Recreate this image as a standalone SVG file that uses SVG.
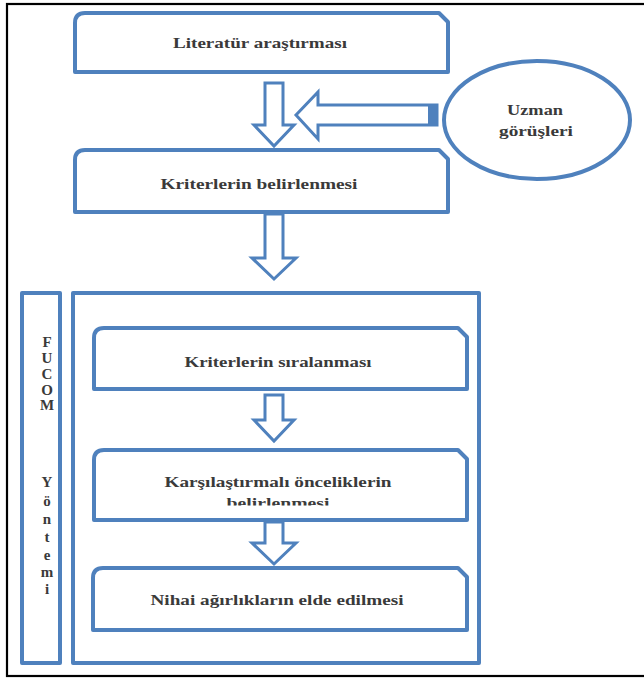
<svg xmlns="http://www.w3.org/2000/svg" width="644" height="678" viewBox="0 0 644 678">
<style>
.box{fill:#fff;stroke:#4f81bd;stroke-width:4;stroke-linejoin:round}
.arr{fill:#fff;stroke:#4f81bd;stroke-width:3;stroke-linejoin:miter}
.t{font-family:"Liberation Serif","DejaVu Serif",serif;font-weight:bold;font-size:15px;fill:#3a3a3a;text-anchor:middle}
.v{font-family:"Liberation Serif","DejaVu Serif",serif;font-weight:bold;font-size:15px;fill:#3a3a3a;text-anchor:middle}
</style>
<defs>
<clipPath id="clip2"><rect x="94" y="450" width="373" height="55.5"/></clipPath>
</defs>
<rect x="0" y="0" width="644" height="678" fill="#fff"/>
<rect x="7" y="4" width="642" height="672" fill="none" stroke="#000" stroke-width="2.2"/>

<g id="literatur">
<path class="box" d="M75,72 L75,23 Q75,13 85,13 L439,13 L448,22 L448,72 Z"/>
<text class="t" x="260" y="48" textLength="174" lengthAdjust="spacingAndGlyphs">Literatür araştırması</text>
</g>

<g id="uzman">
<ellipse class="box" cx="537" cy="120" rx="93" ry="59"/>
<text class="t" x="535" y="115" textLength="56" lengthAdjust="spacingAndGlyphs">Uzman</text>
<text class="t" x="536" y="136" textLength="74" lengthAdjust="spacingAndGlyphs">görüşleri</text>
</g>

<g id="kriter-belirleme">
<path class="box" d="M75,212 L75,160 Q75,150 85,150 L439,150 L448,159 L448,212 Z"/>
<text class="t" x="259" y="189" textLength="197" lengthAdjust="spacingAndGlyphs">Kriterlerin belirlenmesi</text>
</g>

<g id="fucom">
<rect class="box" x="22" y="293" width="38" height="370"/>
<text class="v" x="47" y="347">F</text>
<text class="v" x="47" y="363">U</text>
<text class="v" x="47" y="379">C</text>
<text class="v" x="47" y="395">O</text>
<text class="v" x="47" y="410">M</text>
<text class="v" x="47" y="487">Y</text>
<text class="v" x="47" y="506">ö</text>
<text class="v" x="47" y="524">n</text>
<text class="v" x="47" y="542">t</text>
<text class="v" x="47" y="560">e</text>
<text class="v" x="47" y="577">m</text>
<text class="v" x="47" y="594">i</text>
</g>

<g id="container">
<rect class="box" x="73" y="293" width="406" height="370"/>
</g>

<g id="siralama">
<path class="box" d="M94,389 L94,338 Q94,328 104,328 L458,328 L467,337 L467,389 Z"/>
<text class="t" x="278" y="367" textLength="187" lengthAdjust="spacingAndGlyphs">Kriterlerin sıralanması</text>
</g>

<g id="karsilastirma">
<path class="box" d="M94,520 L94,460 Q94,450 104,450 L458,450 L467,459 L467,520 Z"/>
<text class="t" x="278" y="487" textLength="227" lengthAdjust="spacingAndGlyphs">Karşılaştırmalı önceliklerin</text>
<text class="t" x="278" y="508" textLength="103" lengthAdjust="spacingAndGlyphs" clip-path="url(#clip2)">belirlenmesi</text>
</g>

<g id="nihai">
<path class="box" d="M93,630 L93,578 Q93,568 103,568 L458,568 L467,577 L467,630 Z"/>
<text class="t" x="277" y="605" textLength="253" lengthAdjust="spacingAndGlyphs">Nihai ağırlıkların elde edilmesi</text>
</g>

<g id="connectors">
<path class="arr" d="M265,83 L283,83 L283,125 L294,125 L274,146 L254,125 L265,125 Z"/>
<path class="arr" d="M437,105 L318,105 L318,92 L296,115 L318,139 L318,125 L437,125 Z"/>
<rect x="428" y="104" width="10" height="22" fill="#4f81bd"/>
<path class="arr" d="M265,214 L283,214 L283,258 L296,258 L274,279 L252,258 L265,258 Z"/>
<path class="arr" d="M265,395 L283,395 L283,420 L294,420 L274,441 L254,420 L265,420 Z"/>
<path class="arr" d="M265,522 L283,522 L283,543 L296,543 L274,564 L252,543 L265,543 Z"/>
</g>
</svg>
